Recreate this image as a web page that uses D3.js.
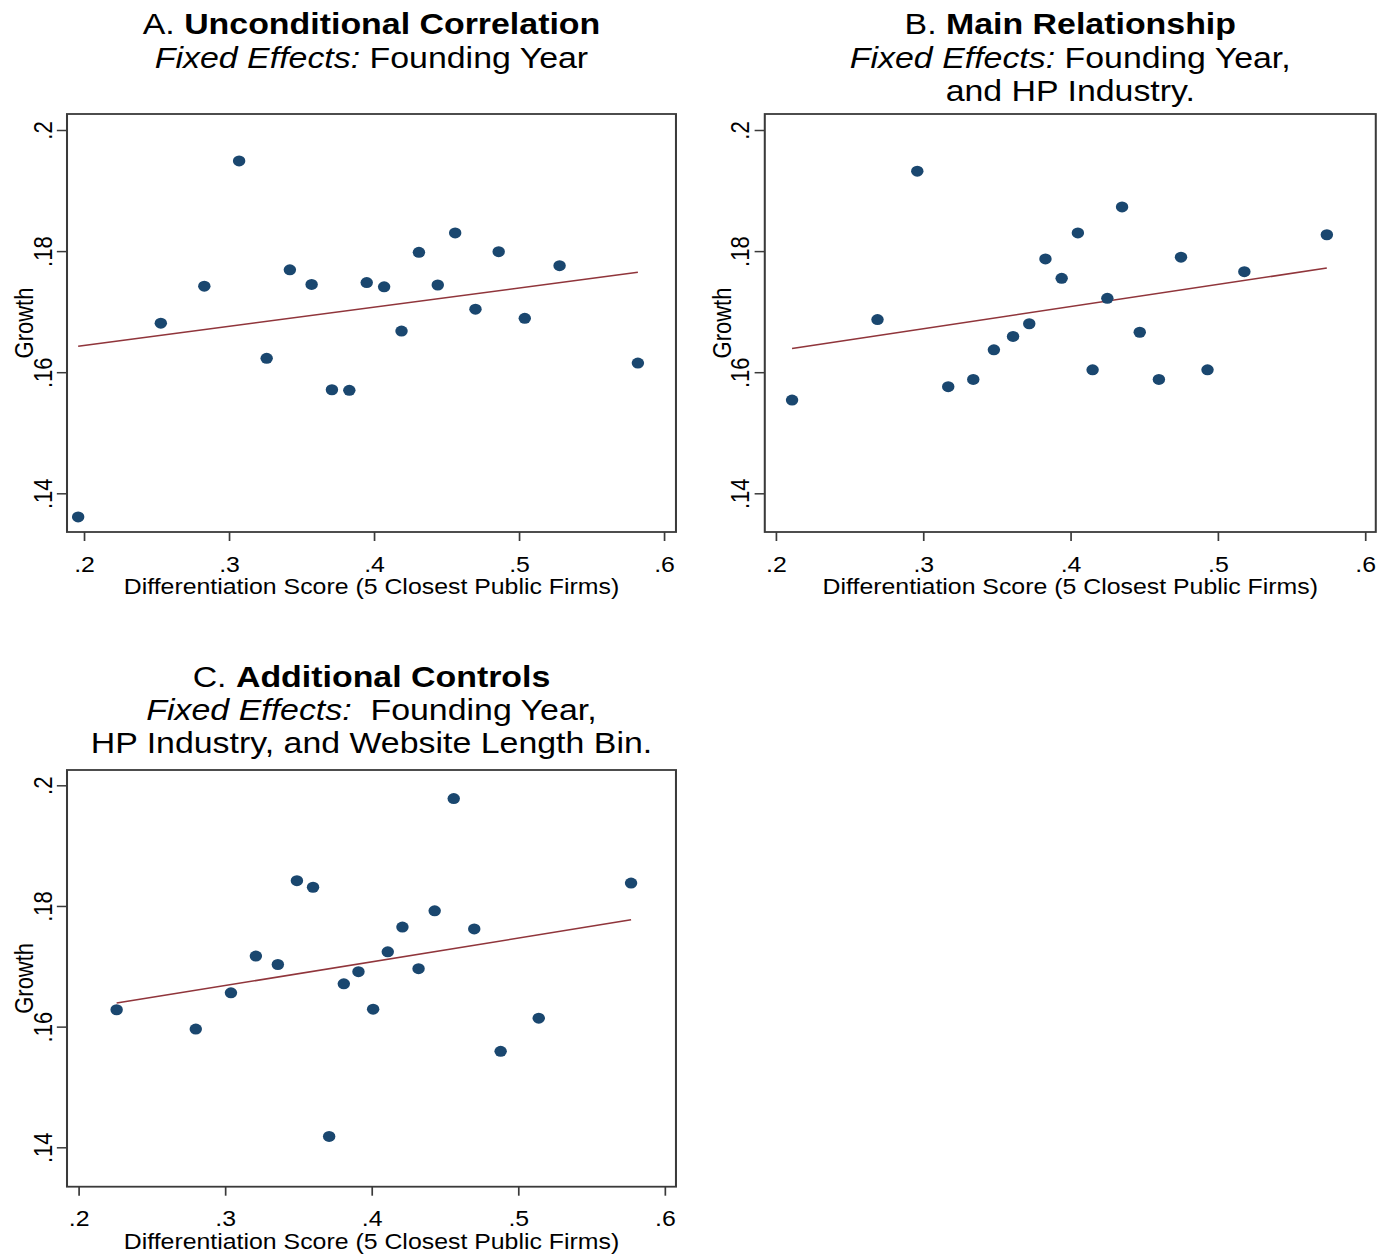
<!DOCTYPE html>
<html>
<head>
<meta charset="utf-8">
<script src="https://cdn.jsdelivr.net/npm/d3@7"></script>
<style>
  body { margin: 0; background: #fff; }
  text { font-family: "Liberation Sans", Arial, sans-serif; fill: #000; }
</style>
</head>
<body>
<div id="chart"></div>
<script>
// tick values
const xTicks = [0.2, 0.3, 0.4, 0.5, 0.6];
const yTicks = [0.14, 0.16, 0.18, 0.2];

// panel A: unconditional correlation
const scoreA = [0.196, 0.253, 0.283, 0.307, 0.326, 0.342, 0.357, 0.371, 0.383, 0.395, 0.407, 0.419, 0.431, 0.444, 0.456, 0.470, 0.486, 0.504, 0.528, 0.582];
const growthA = [0.1361, 0.1681, 0.1742, 0.1949, 0.1623, 0.1769, 0.1745, 0.1571, 0.1570, 0.1748, 0.1741, 0.1668, 0.1798, 0.1744, 0.1830, 0.1704, 0.1799, 0.1689, 0.1776, 0.1615];
const fitA = [0.1643, 0.1765];

// panel B: main relationship
const scoreB = [0.211, 0.269, 0.296, 0.317, 0.334, 0.348, 0.361, 0.372, 0.383, 0.394, 0.405, 0.415, 0.425, 0.435, 0.447, 0.460, 0.475, 0.493, 0.518, 0.574];
const growthB = [0.1554, 0.1687, 0.1932, 0.1576, 0.1588, 0.1637, 0.1659, 0.1680, 0.1787, 0.1755, 0.1830, 0.1604, 0.1722, 0.1873, 0.1666, 0.1588, 0.1790, 0.1604, 0.1766, 0.1827];
const fitB = [0.1639, 0.1772];

// panel C: additional controls
const scoreC = [0.226, 0.280, 0.304, 0.321, 0.336, 0.349, 0.360, 0.371, 0.381, 0.391, 0.401, 0.411, 0.421, 0.432, 0.443, 0.456, 0.470, 0.488, 0.514, 0.577];
const growthC = [0.1628, 0.1596, 0.1656, 0.1717, 0.1703, 0.1842, 0.1831, 0.1418, 0.1671, 0.1691, 0.1629, 0.1724, 0.1765, 0.1696, 0.1792, 0.1978, 0.1762, 0.1559, 0.1614, 0.1838];
const fitC = [0.1639, 0.1777];

const xLabel = "Differentiation Score (5 Closest Public Firms)";
const yLabel = "Growth";

// title lines: [text, style] pieces
const titleA = [
  [["A. ", "n"], ["Unconditional Correlation", "b"]],
  [["Fixed Effects:", "i"], [" Founding Year", "n"]]
];
const titleB = [
  [["B. ", "n"], ["Main Relationship", "b"]],
  [["Fixed Effects:", "i"], [" Founding Year,", "n"]],
  [["and HP Industry.", "n"]]
];
const titleC = [
  [["C. ", "n"], ["Additional Controls", "b"]],
  [["Fixed Effects:", "i"], ["  Founding Year,", "n"]],
  [["HP Industry, and Website Length Bin.", "n"]]
];

const width = 1387;
const height = 1258;
const sx = 1.13; // the original export is a bit stretched horizontally

const svg = d3.select("#chart").append("svg")
    .attr("width", width)
    .attr("height", height);

const root = svg.append("g").attr("transform", `scale(${sx},1)`);

const panels = [
  { x: scoreA, y: growthA, fit: fitA, title: titleA,
    frame: { left: 59.3, right: 598.2, top: 114, bottom: 532 },
    xr: [74.3, 587.6], yr: [493.3, 130], titleY: [34.5, 68] },
  { x: scoreB, y: growthB, fit: fitB, title: titleB,
    frame: { left: 676.8, right: 1217.5, top: 114, bottom: 532 },
    xr: [686.6, 1208.1], yr: [493.3, 130], titleY: [34.5, 68, 101.5] },
  { x: scoreC, y: growthC, fit: fitC, title: titleC,
    frame: { left: 59.3, right: 598.2, top: 770, bottom: 1186.7 },
    xr: [69.5, 588.3], yr: [1147.3, 785.3], titleY: [686.7, 720, 753.3] }
];

const fmt = d => d3.format(".2~f")(d).replace(/^0/, "");

panels.forEach(p => {
    const g = root.append("g");
    const f = p.frame;
    const cx = (f.left + f.right) / 2;

    const x = d3.scaleLinear().domain([0.2, 0.6]).range(p.xr);
    const y = d3.scaleLinear().domain([0.14, 0.2]).range(p.yr);

    // title
    p.title.forEach((line, i) => {
        const t = g.append("text")
            .attr("x", cx)
            .attr("y", p.titleY[i])
            .attr("text-anchor", "middle")
            .style("font-size", "30px")
            .style("white-space", "pre");
        line.forEach(seg => {
            t.append("tspan")
                .text(seg[0])
                .style("font-weight", seg[1] === "b" ? "bold" : "normal")
                .style("font-style", seg[1] === "i" ? "italic" : "normal");
        });
    });

    // plot region outline
    g.append("rect")
        .attr("x", f.left)
        .attr("y", f.top)
        .attr("width", f.right - f.left)
        .attr("height", f.bottom - f.top)
        .attr("fill", "none")
        .attr("stroke", "#3a3a3a")
        .attr("stroke-width", 1.8);

    // x axis
    const xAxis = g.append("g")
        .attr("transform", `translate(0,${f.bottom})`)
        .call(d3.axisBottom(x).tickValues(xTicks).tickSize(9).tickPadding(15).tickFormat(fmt));
    xAxis.select(".domain").remove();
    xAxis.selectAll("line").attr("stroke", "#3a3a3a").attr("stroke-width", 1.5);
    xAxis.selectAll("text")
        .attr("fill", "#000")
        .style("font-size", "22px")
        .style("font-family", "'Liberation Sans', Arial, sans-serif");

    // y axis with rotated labels
    const yAxis = g.append("g")
        .attr("transform", `translate(${f.left},0)`)
        .call(d3.axisLeft(y).tickValues(yTicks).tickSize(9).tickFormat(fmt));
    yAxis.select(".domain").remove();
    yAxis.selectAll("line").attr("stroke", "#3a3a3a").attr("stroke-width", 1.5);
    yAxis.selectAll("text")
        .attr("transform", "rotate(-90)")
        .attr("x", 0)
        .attr("y", -13.6)
        .attr("dy", 0)
        .attr("text-anchor", "middle")
        .attr("fill", "#000")
        .style("font-size", "22px")
        .style("font-family", "'Liberation Sans', Arial, sans-serif");

    // axis titles
    g.append("text")
        .attr("x", cx)
        .attr("y", f.bottom + 62)
        .attr("text-anchor", "middle")
        .style("font-size", "22px")
        .text(xLabel);

    g.append("text")
        .attr("transform", `translate(${f.left - 30},${(f.top + f.bottom) / 2}) rotate(-90)`)
        .attr("text-anchor", "middle")
        .style("font-size", "22px")
        .text(yLabel);

    // fitted line
    const ext = d3.extent(p.x);
    g.append("line")
        .attr("x1", x(ext[0]))
        .attr("y1", y(p.fit[0]))
        .attr("x2", x(ext[1]))
        .attr("y2", y(p.fit[1]))
        .attr("stroke", "#90353b")
        .attr("stroke-width", 1.5);

    // binned points
    g.selectAll("circle.pt")
        .data(p.x.map((v, i) => [v, p.y[i]]))
        .join("circle")
        .attr("class", "pt")
        .attr("cx", d => x(d[0]))
        .attr("cy", d => y(d[1]))
        .attr("r", 5.5)
        .attr("fill", "#1a476f");
});
</script>
</body>
</html>
